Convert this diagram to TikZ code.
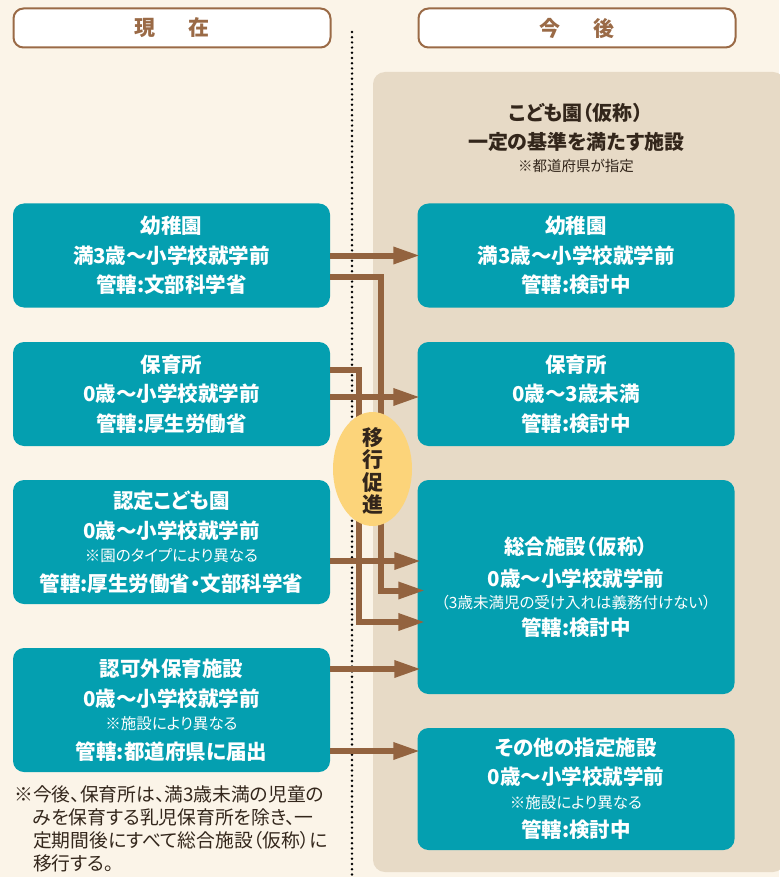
\documentclass[tikz,border=0pt]{standalone}
\usepackage{fontspec}
\setmainfont{Noto Sans CJK JP}[RawFeature=+palt]
\usetikzlibrary{arrows.meta,calc,shapes.geometric}
\definecolor{bgcol}{HTML}{FBF4E8}
\definecolor{panelcol}{HTML}{E7DAC6}
\definecolor{boxcol}{HTML}{049FB0}
\definecolor{arrcol}{HTML}{93633F}
\definecolor{hdrcol}{HTML}{9A6A46}
\definecolor{ovalcol}{HTML}{FCD47A}
\definecolor{inkcol}{HTML}{33261B}
\tikzset{
  hdrbox/.style={draw=hdrcol, line width=2pt, fill=white, rounded corners=10pt,
    minimum width=317pt, minimum height=39pt, inner sep=0pt, text=hdrcol,
    font=\bfseries\fontsize{21}{24}\selectfont},
  tbox/.style={fill=boxcol, rounded corners=11pt, minimum width=317pt, inner sep=0pt,
    text=white, align=center, font=\bfseries\fontsize{20.5}{29.5}\selectfont},
  arr/.style={draw=arrcol, line width=6pt, -{Triangle[length=27pt,width=16pt]}},
  dotline/.style={draw=black, line width=2.7pt, line cap=round, dash pattern=on 0pt off 5.2pt},
}
\newcommand{\smalltxt}[1]{{\mdseries\fontsize{15.5}{15.5}\selectfont #1}}
\begin{document}
\begin{tikzpicture}[x=1pt,y=-1pt]
\useasboundingbox (0,0) rectangle (779,877);
\fill[bgcol] (0,0) rectangle (779,877);
\fill[panelcol, rounded corners=12pt] (373,72) rectangle (785,872);
\draw[dotline] (352,32) -- (352,877);

\node[hdrbox] (hl) at (172,28) {現\hspace{1.6em}在};
\node[hdrbox] (hr) at (577,28) {今\hspace{1.6em}後};

\node[text=inkcol, align=center, font=\bfseries\fontsize{20}{29}\selectfont] (pt) at (576,138)
  {こども園（仮称）\\一定の基準を満たす施設\\[-7pt]{\mdseries\fontsize{14.5}{14.5}\selectfont ※都道府県が指定}};

% left boxes
\node[tbox, minimum height=104pt] (L1) at (171.5,255.5) {幼稚園\\満3歳～小学校就学前\\管轄:文部科学省};
\node[tbox, minimum height=104pt] (L2) at (171.5,394) {保育所\\0歳～小学校就学前\\管轄:厚生労働省};
\node[tbox, minimum height=124pt] (L3) at (171.5,542) {認定こども園\\0歳～小学校就学前\\[-6pt]\smalltxt{※園のタイプにより異なる}\\管轄:厚生労働省・文部科学省};
\node[tbox, minimum height=124pt] (L4) at (171.5,710) {認可外保育施設\\0歳～小学校就学前\\[-6pt]\smalltxt{※施設により異なる}\\管轄:都道府県に届出};

% right boxes
\node[tbox, minimum height=104pt] (R1) at (576,255.5) {幼稚園\\満3歳～小学校就学前\\管轄:検討中};
\node[tbox, minimum height=104pt] (R2) at (576,394) {保育所\\0歳～3歳未満\\管轄:検討中};
\node[tbox, minimum height=214pt] (R3) at (576,587) {総合施設（仮称）\\[3pt]0歳～小学校就学前\\[-8pt]\smalltxt{（3歳未満児の受け入れは義務付けない）}\\[-2pt]管轄:検討中};
\node[tbox, minimum height=122pt] (R4) at (576,789) {その他の指定施設\\0歳～小学校就学前\\[-6pt]\smalltxt{※施設により異なる}\\管轄:検討中};

% connectors
\draw[arr, shorten >=-3pt] (L1.east) -- (R1.west);
\draw[arr, shorten >=-8pt] ($(L1.east)+(0,21.5)$) -- ++(50.5,0) |- ($(R3.west)+(0,3.5)$);
\draw[arr, shorten >=-8pt] ($(L2.east)+(0,-24)$) -- ++(28.5,0) |- ($(R3.west)+(0,35)$);
\draw[arr, shorten >=-3pt] ($(L2.east)+(0,3)$) -- ($(R2.west)+(0,3)$);
\draw[arr, shorten >=-4pt] ($(L3.east)+(0,19)$) -- ($(R3.west)+(0,-26)$);
\draw[arr, shorten >=-4pt] ($(L4.east)+(0,-41)$) -- ($(R3.west)+(0,82)$);
\draw[arr, shorten >=-3pt] ($(L4.east)+(0,41)$) -- ($(R4.west)+(0,-38)$);

% oval
\node[ellipse, fill=ovalcol, minimum width=79pt, minimum height=114pt, inner sep=0pt] (ov) at (372.5,469) {};
\node[text=inkcol, align=center, font=\bfseries\fontsize{21}{22.5}\selectfont] (ovt) at ($(ov.center)+(0,2)$) {移\\行\\促\\進};

% footnote
\node[anchor=north west, inner sep=0pt, align=left, text=inkcol, font=\fontsize{18.8}{23}\selectfont] (fn) at (14,785)
  {※今後、保育所は、満3歳未満の児童の\\
   \hphantom{※}みを保育する乳児保育所を除き、一\\
   \hphantom{※}定期間後にすべて総合施設（仮称）に\\
   \hphantom{※}移行する。};
\end{tikzpicture}
\end{document}
